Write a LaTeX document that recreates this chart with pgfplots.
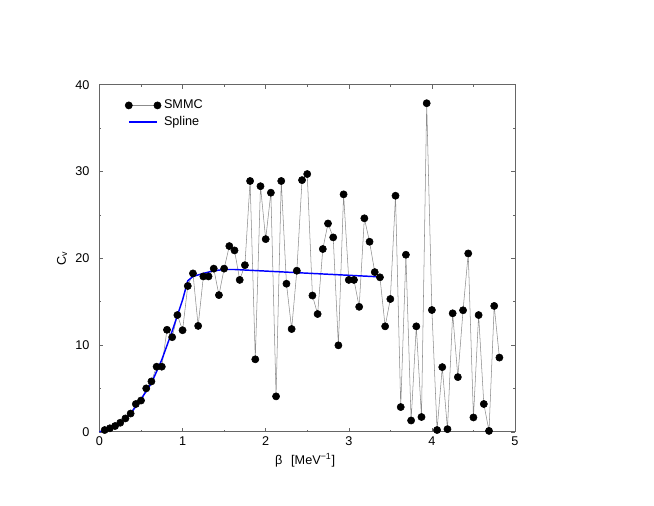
\documentclass[border=0pt]{standalone}
\usepackage{fontspec}
\setmainfont{Liberation Sans}
\usepackage{pgfplots}
\pgfplotsset{compat=1.18}

% SMMC heat capacity, beta step 1/16
\pgfplotstableread{
beta C
0.0625 0.2
0.125 0.4
0.1875 0.66
0.25 1.04
0.3125 1.54
0.375 2.1
0.4375 3.2
0.5 3.6
0.5625 5.0
0.625 5.8
0.6875 7.5
0.75 7.5
0.8125 11.75
0.875 10.9
0.9375 13.45
1.0 11.7
1.0625 16.8
1.125 18.25
1.1875 12.2
1.25 17.9
1.3125 17.9
1.375 18.8
1.4375 15.75
1.5 18.8
1.5625 21.4
1.625 20.9
1.6875 17.5
1.75 19.2
1.8125 28.9
1.875 8.35
1.9375 28.3
2.0 22.2
2.0625 27.55
2.125 4.08
2.1875 28.9
2.25 17.06
2.3125 11.84
2.375 18.56
2.4375 29.0
2.5 29.7
2.5625 15.7
2.625 13.57
2.6875 21.06
2.75 24.0
2.8125 22.4
2.875 9.96
2.9375 27.36
3.0 17.5
3.0625 17.5
3.125 14.4
3.1875 24.6
3.25 21.9
3.3125 18.4
3.375 17.8
3.4375 12.15
3.5 15.3
3.5625 27.2
3.625 2.85
3.6875 20.4
3.75 1.3
3.8125 12.15
3.875 1.7
3.9375 37.86
4.0 14.03
4.0625 0.2
4.125 7.45
4.1875 0.3
4.25 13.65
4.3125 6.3
4.375 14.0
4.4375 20.55
4.5 1.65
4.5625 13.45
4.625 3.2
4.6875 0.1
4.75 14.5
4.8125 8.55
}\smmc

\pgfplotstableread{
beta C
0 0
0.125 0.35
0.25 1.0
0.375 2.1
0.5 3.75
0.625 5.6
0.75 8.3
0.875 11.6
1.0 15.2
1.0625 17.4
1.125 17.9
1.25 18.25
1.375 18.55
1.5 18.7
1.625 18.7
3.375 17.85
}\spline

\begin{document}
\begin{tikzpicture}[font=\fontsize{9.5}{11.3}\selectfont]
\begin{axis}[
  scale only axis,
  width=311.6pt, height=260.3pt,
  xmin=0, xmax=5, ymin=0, ymax=40,
  xtick={0,1,2,3,4,5}, ytick={0,10,20,30,40},
  minor x tick num=1, minor y tick num=1,
  tick align=inside,
  major tick length=3pt, minor tick length=1.5pt,
  axis line style={black!60, line width=0.5pt},
  tick style={black!60, line width=0.4pt},
  /pgf/number format/assume math mode=true,
  yticklabel style={xshift=-4pt},
  xlabel={β\hspace{6.5pt}[MeV\textsuperscript{−1}]},
  ylabel={C\textsubscript{v}},
  xlabel style={at={(axis description cs:0.495,-0.082)}, anchor=center},
  ylabel style={at={(axis description cs:-0.09,0.5)}, anchor=center},
  clip=false,
  legend cell align=left,
  legend style={draw=none, fill=none, at={(axis description cs:0.051,0.972)},
    anchor=north west, row sep=0pt},
]
\addplot[black!45, line width=0.4pt, mark=*, mark size=2.7pt,
  mark options={black, fill=black, solid},
  legend image code/.code={
    \draw[black!45, line width=0.4pt] (0pt,0pt) -- (21.5pt,0pt);
    \fill[black] (0pt,0pt) circle (2.7pt);
    \fill[black] (21.5pt,0pt) circle (2.7pt);}]
  table[x=beta, y=C] {\smmc};
\addlegendentry{SMMC}
\addplot[color=blue, line width=1.1pt, no marks,
  legend image code/.code={
    \draw[draw=blue, line width=1.2pt] (0pt,0pt) -- (21.5pt,0pt);}]
  table[x=beta, y=C] {\spline};
\addlegendentry{Spline}
\end{axis}
\path[use as bounding box] ([xshift=-74.6pt,yshift=-55pt]current axis.south west)
  rectangle ([xshift=104.25pt,yshift=63.5pt]current axis.north east);
\end{tikzpicture}
\end{document}
